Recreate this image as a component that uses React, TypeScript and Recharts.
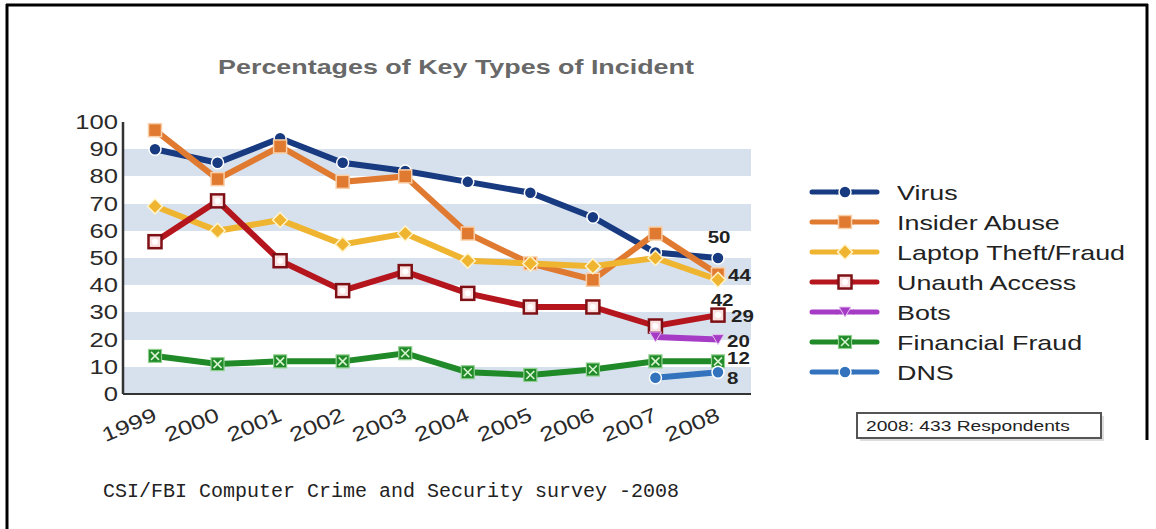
import React from 'react';
import { LineChart, Line, XAxis, YAxis, CartesianGrid } from 'recharts';

const years = ['1999', '2000', '2001', '2002', '2003', '2004', '2005', '2006', '2007', '2008'];
const virus = [90, 85, 94, 85, 82, 78, 74, 65, 52, 50];
const insiderAbuse = [97, 79, 91, 78, 80, 59, 48, 42, 59, 44];
const laptopTheft = [69, 60, 64, 55, 59, 49, 48, 47, 50, 42];
const unauthAccess = [56, 71, 49, 38, 45, 37, 32, 32, 25, 29];
const bots = [null, null, null, null, null, null, null, null, 21, 20];
const financialFraud = [14, 11, 12, 12, 15, 8, 7, 9, 12, 12];
const dns = [null, null, null, null, null, null, null, null, 6, 8];
const yTicks = [0, 10, 20, 30, 40, 50, 60, 70, 80, 90, 100];

const data = years.map((y, i) => ({
  year: y,
  virus: virus[i],
  insider: insiderAbuse[i],
  laptop: laptopTheft[i],
  unauth: unauthAccess[i],
  bots: bots[i],
  financial: financialFraud[i],
  dns: dns[i],
}));

const SX = 1.28;
const FONT = '"Liberation Sans", Arial, sans-serif';

type Shape = 'circle' | 'square' | 'diamond' | 'unauth' | 'tri' | 'xsq';

const series: { key: string; name: string; color: string; shape: Shape; lab: [number, number, string] }[] = [
  { key: 'virus', name: 'Virus', color: '#173a80', shape: 'circle', lab: [1, -15, 'middle'] },
  { key: 'insider', name: 'Insider Abuse', color: '#e07a30', shape: 'square', lab: [10, 7, 'start'] },
  { key: 'laptop', name: 'Laptop Theft/Fraud', color: '#efb430', shape: 'diamond', lab: [4, 26, 'middle'] },
  { key: 'unauth', name: 'Unauth Access', color: '#b5161e', shape: 'unauth', lab: [13, 7, 'start'] },
  { key: 'bots', name: 'Bots', color: '#a63cc6', shape: 'tri', lab: [9, 7, 'start'] },
  { key: 'financial', name: 'Financial Fraud', color: '#1f8a27', shape: 'xsq', lab: [9, 3, 'start'] },
  { key: 'dns', name: 'DNS', color: '#3373bd', shape: 'circle', lab: [9, 12, 'start'] },
];

function Marker({ shape, color, cx, cy }: { shape: Shape; color: string; cx: number; cy: number }) {
  switch (shape) {
    case 'circle':
      return <circle cx={cx} cy={cy} r={6} fill={color} stroke="#ffffff" strokeWidth={1.5} />;
    case 'square':
      return <rect x={cx - 6.5} y={cy - 6.5} width={13} height={13} fill={color} stroke="#f8cfa8" strokeWidth={1.5} />;
    case 'diamond':
      return <polygon points={`${cx},${cy - 7.5} ${cx + 7.5},${cy} ${cx},${cy + 7.5} ${cx - 7.5},${cy}`} fill={color} stroke="#fff4cc" strokeWidth={1.5} />;
    case 'unauth':
      return (
        <g>
          <rect x={cx - 6.5} y={cy - 6.5} width={13} height={13} fill="#fbe2e2" stroke="#7e1015" strokeWidth={2.5} />
          <circle cx={cx} cy={cy} r={3} fill="#ffffff" />
        </g>
      );
    case 'tri':
      return <polygon points={`${cx - 6},${cy - 5} ${cx + 6},${cy - 5} ${cx},${cy + 5}`} fill={color} stroke="#e6c4f0" strokeWidth={1} />;
    case 'xsq':
      return (
        <g>
          <rect x={cx - 6.5} y={cy - 6.5} width={13} height={13} fill={color} stroke="#8fd08f" strokeWidth={1.2} />
          <line x1={cx - 4} y1={cy - 4} x2={cx + 4} y2={cy + 4} stroke="#d8f3d0" strokeWidth={1.6} />
          <line x1={cx + 4} y1={cy - 4} x2={cx - 4} y2={cy + 4} stroke="#d8f3d0" strokeWidth={1.6} />
        </g>
      );
  }
  return null;
}

const makeDot = (shape: Shape, color: string) => (p: any) => {
  if (p.value == null || p.cy == null || isNaN(p.cy)) return <g key={`d${p.index}`} />;
  return (
    <g key={`d${p.index}`}>
      <Marker shape={shape} color={color} cx={p.cx} cy={p.cy} />
    </g>
  );
};

const makeLabel = (dx: number, dy: number, anchor: string) => (p: any) => {
  if (p.index !== years.length - 1 || p.value == null) return <g key={`l${p.index}`} />;
  return (
    <g key={`l${p.index}`} transform={`translate(${p.x + dx},${p.y + dy}) scale(${SX},1)`}>
      <text x={0} y={0} textAnchor={anchor as any} fontSize={16} fontWeight="bold" fill="#222" fontFamily={FONT}>
        {p.value}
      </text>
    </g>
  );
};

const XTick = (p: any) => (
  <g transform={`translate(${p.x + 3},${p.y + 18}) rotate(-23) scale(${SX},1)`}>
    <text x={0} y={0} textAnchor="end" fontSize={20} fill="#2a2a2a" fontFamily={FONT}>
      {p.payload.value}
    </text>
  </g>
);

const YTick = (p: any) => (
  <g transform={`translate(${p.x + 3},${p.y + 7}) scale(${SX},1)`}>
    <text x={0} y={0} textAnchor="end" fontSize={20} fill="#2a2a2a" fontFamily={FONT}>
      {p.payload.value}
    </text>
  </g>
);

function Overlay() {
  return (
    <svg width={1156} height={529} style={{ position: 'absolute', left: 0, top: 0, pointerEvents: 'none' }}>
      <line x1={7} y1={4} x2={7} y2={529} stroke="#000" strokeWidth={3} />
      <line x1={6} y1={5} x2={1148} y2={5} stroke="#000" strokeWidth={3} />
      <line x1={1147} y1={4} x2={1147} y2={440} stroke="#000" strokeWidth={3} />
      <g transform={`translate(456,74) scale(${SX},1)`}>
        <text x={0} y={0} textAnchor="middle" fontSize={21} fontWeight="bold" fill="#686868" fontFamily={FONT}>
          Percentages of Key Types of Incident
        </text>
      </g>
      {series.map((s, i) => {
        const cy = 192 + i * 30;
        return (
          <g key={s.key}>
            <line x1={812} y1={cy} x2={836} y2={cy} stroke={s.color} strokeWidth={5} strokeLinecap="round" />
            <line x1={854} y1={cy} x2={877} y2={cy} stroke={s.color} strokeWidth={5} strokeLinecap="round" />
            <line x1={836} y1={cy} x2={854} y2={cy} stroke={s.color} strokeWidth={5} />
            <Marker shape={s.shape} color={s.color} cx={845} cy={cy} />
            <g transform={`translate(897,${cy + 8}) scale(${SX},1)`}>
              <text x={0} y={0} fontSize={21} fill="#222" fontFamily={FONT}>
                {s.name}
              </text>
            </g>
          </g>
        );
      })}
      <rect x={860} y={416} width={244} height={25} fill="#bbb" opacity={0.5} />
      <rect x={857} y={413} width={244} height={25} fill="#fff" stroke="#555" strokeWidth={2} />
      <g transform={`translate(866,431) scale(${SX},1)`}>
        <text x={0} y={0} fontSize={15} fill="#222" fontFamily={FONT}>
          2008: 433 Respondents
        </text>
      </g>
      <text x={103} y={497} fontSize={20} fill="#222" fontFamily='"Liberation Mono", "DejaVu Sans Mono", monospace'>
        CSI/FBI Computer Crime and Security survey -2008
      </text>
    </svg>
  );
}

export default function App() {
  return (
    <div style={{ position: 'absolute', left: 0, top: 0, width: 1156, height: 529, background: '#fff' }}>
      <LineChart width={1156} height={529} data={data} margin={{ top: 122, right: 405, bottom: 105, left: 73 }}>
        <CartesianGrid
          vertical={false}
          stroke="none"
          horizontalFill={['#ffffff', '#d7e1ed']}
          fillOpacity={1}
        />
        <XAxis
          dataKey="year"
          height={30}
          padding={{ left: 32, right: 33 }}
          tickLine={false}
          axisLine={{ stroke: '#333', strokeWidth: 2 }}
          tick={XTick}
          interval={0}
        />
        <YAxis
          width={50}
          domain={[0, 100]}
          ticks={yTicks}
          tickLine={false}
          axisLine={{ stroke: '#333', strokeWidth: 2.5 }}
          tick={YTick}
          interval={0}
        />
        {series.map((s) => (
          <Line
            key={s.key}
            dataKey={s.key}
            name={s.name}
            stroke={s.color}
            strokeWidth={6}
            type="linear"
            isAnimationActive={false}
            dot={makeDot(s.shape, s.color)}
            activeDot={false}
            connectNulls={false}
            label={makeLabel(s.lab[0], s.lab[1], s.lab[2])}
          />
        ))}
      </LineChart>
      <Overlay />
    </div>
  );
}
